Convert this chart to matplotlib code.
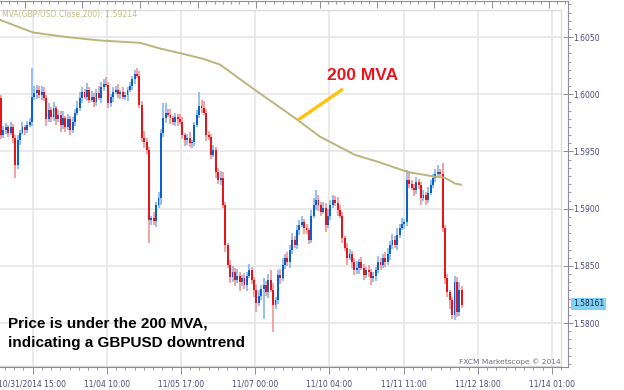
import matplotlib
matplotlib.use("Agg")
import matplotlib.pyplot as plt
import numpy as np
from matplotlib.ticker import FixedLocator

# ---------------- data ----------------
first_open = 1.5997
closes = [
    1.5964, 1.5969, 1.5971, 1.5966, 1.5971, 1.5962, 1.5938, 1.5960, 1.5966, 1.5971,
    1.5969, 1.5973, 1.5976, 1.5998, 1.6001, 1.6004, 1.5999, 1.6002, 1.5997, 1.5978,
    1.5986, 1.5980, 1.5988, 1.5978, 1.5982, 1.5973, 1.5979, 1.5971, 1.5978, 1.5969,
    1.5976, 1.5984, 1.5988, 1.5997, 1.6002, 1.5998, 1.6004, 1.5995, 1.5998, 1.5993,
    1.6001, 1.5997, 1.6006, 1.6009, 1.6008, 1.5992, 1.5998, 1.6002, 1.6004, 1.6000,
    1.6002, 1.5998, 1.5999, 1.6004, 1.6007, 1.6013, 1.6018, 1.6016, 1.5991, 1.5962,
    1.5958, 1.5951, 1.5890, 1.5892, 1.5889, 1.5903, 1.5909, 1.5966, 1.5979, 1.5984,
    1.5982, 1.5979, 1.5976, 1.5980, 1.5978, 1.5976, 1.5964, 1.5960, 1.5962, 1.5957,
    1.5958, 1.5973, 1.5982, 1.5990, 1.5988, 1.5984, 1.5964, 1.5963, 1.5947, 1.5951,
    1.5932, 1.5925, 1.5927, 1.5903, 1.5868, 1.5851, 1.5840, 1.5845, 1.5838, 1.5841,
    1.5836, 1.5839, 1.5833, 1.5841, 1.5846, 1.5838, 1.5829, 1.5818, 1.5824, 1.5830,
    1.5833, 1.5827, 1.5838, 1.5829, 1.5816, 1.5820, 1.5842, 1.5839, 1.5851, 1.5857,
    1.5853, 1.5864, 1.5873, 1.5868, 1.5881, 1.5886, 1.5888, 1.5883, 1.5881, 1.5873,
    1.5894, 1.5903, 1.5908, 1.5903, 1.5897, 1.5901, 1.5886, 1.5894, 1.5903, 1.5908,
    1.5905, 1.5899, 1.5894, 1.5874, 1.5866, 1.5857, 1.5860, 1.5853, 1.5846, 1.5848,
    1.5853, 1.5848, 1.5842, 1.5846, 1.5845, 1.5839, 1.5841, 1.5846, 1.5853, 1.5851,
    1.5857, 1.5853, 1.5860, 1.5868, 1.5873, 1.5868, 1.5877, 1.5883, 1.5887, 1.5888,
    1.5925, 1.5922, 1.5918, 1.5916, 1.5923, 1.5921, 1.5909, 1.5912, 1.5908, 1.5914,
    1.5921, 1.5927, 1.5930, 1.5932, 1.5930, 1.5883, 1.5839, 1.5827, 1.5820, 1.5807,
    1.5836, 1.5810, 1.5829, 1.5816,
]
upper_wick_pips = [
    2, 3, 4, 2, 5, 3, 2, 4, 3, 5,
    2, 4, 3, 25, 6, 4, 3, 5, 4, 2,
    6, 3, 5, 2, 4, 3, 6, 2, 5, 3,
    4, 3, 6, 5, 4, 3, 6, 2, 5, 3,
    4, 6, 5, 4, 6, 3, 2, 4, 3, 5,
    2, 4, 3, 2, 4, 3, 3, 5, 4, 3,
    6, 4, 3, 2, 5, 3, 6, 4, 13, 8,
    3, 5, 2, 4, 3, 5, 4, 2, 3, 5,
    2, 3, 4, 12, 5, 6, 3, 4, 2, 5,
    3, 4, 6, 5, 3, 2, 4, 5, 3, 6,
    4, 3, 5, 4, 6, 3, 2, 4, 5, 3,
    6, 4, 5, 8, 6, 3, 4, 5, 6, 3,
    5, 4, 6, 3, 5, 4, 6, 3, 4, 2,
    5, 6, 8, 4, 3, 5, 4, 6, 5, 4,
    3, 5, 4, 3, 2, 4, 5, 3, 4, 6,
    3, 5, 4, 3, 5, 2, 4, 3, 6, 4,
    3, 5, 6, 4, 5, 3, 6, 4, 5, 3,
    9, 8, 3, 4, 5, 3, 2, 4, 3, 5,
    4, 3, 5, 6, 3, 10, 3, 4, 2, 3,
    5, 4, 7, 3,
]
lower_wick_pips = [
    3, 2, 4, 3, 2, 5, 11, 3, 4, 2,
    5, 3, 2, 4, 3, 5, 2, 4, 3, 6,
    2, 4, 3, 5, 2, 6, 3, 4, 2, 5,
    3, 4, 2, 3, 5, 2, 4, 3, 2, 4,
    3, 2, 5, 3, 2, 4, 3, 5, 2, 3,
    4, 2, 3, 5, 2, 3, 4, 2, 3, 4,
    5, 3, 20, 4, 3, 5, 2, 6, 3, 4,
    2, 5, 3, 4, 6, 2, 3, 5, 4, 3,
    4, 3, 2, 3, 4, 2, 5, 3, 4, 2,
    5, 3, 4, 2, 6, 3, 5, 4, 6, 3,
    8, 4, 3, 5, 2, 4, 6, 8, 3, 4,
    26, 3, 5, 2, 24, 4, 3, 5, 2, 4,
    3, 5, 4, 2, 3, 4, 2, 5, 3, 4,
    3, 2, 4, 5, 3, 2, 6, 3, 4, 2,
    3, 5, 2, 4, 3, 6, 2, 5, 4, 3,
    5, 2, 4, 3, 5, 6, 3, 4, 2, 5,
    3, 4, 2, 5, 3, 2, 4, 3, 2, 5,
    3, 4, 2, 5, 3, 4, 6, 2, 5, 3,
    2, 3, 4, 2, 3, 3, 5, 4, 8, 3,
    4, 5, 4, 3,
]
# 200-period moving average (bar index, value)
mva_bar = [-0.4, 13.4, 27.6, 41.5, 58.2, 66.6, 75.0, 84.6, 91.7, 105.6,
           124.0, 133.6, 148.3, 157.9, 170.5, 181.8, 186.0, 190.2, 192.7]
mva_val = [1.6065, 1.6054, 1.6050, 1.6047, 1.6045, 1.6040, 1.6036, 1.6031, 1.6026, 1.6005,
           1.5978, 1.5963, 1.5947, 1.5941, 1.5932, 1.5928, 1.5927, 1.5922, 1.5921]
mva_label = "MVA(GBP/USD.Close,200): 1.59214"
last_price = "1.58161"

x_tick_labels = ["10/31/2014 15:00", "11/04 10:00", "11/05 17:00", "11/07 00:00",
                 "11/10 04:00", "11/11 11:00", "11/12 18:00", "11/14 01:00"]
y_ticks = [1.5800, 1.5850, 1.5900, 1.5950, 1.6000, 1.6050]

# ---------------- layout (pixel calibration) ----------------
W, H = 624, 390
PX_PER_BAR = 2.387
BAR0_PX = 1.0
PRICE_AT_Y0 = 1.60824
PRICE_PER_PX = 0.0000874


def bar_at(px):
    return (px - BAR0_PX) / PX_PER_BAR


def price_at(py):
    return PRICE_AT_Y0 - PRICE_PER_PX * py


label_bars = [bar_at(32.5) + k * (bar_at(552) - bar_at(32.5)) / 7 for k in range(8)]
ruler_major_px = [25, 82, 140, 198, 256, 320, 377, 434, 492, 549]

plt.rcParams["font.family"] = ["DejaVu Sans"]
fig = plt.figure(figsize=(W / 100, H / 100), dpi=100, facecolor="white")

# main plot area
ax = fig.add_axes([0, (H - 366) / H, 561 / W, (366 - 10) / H])
ax.set_xlim(bar_at(0), bar_at(561))
ax.set_ylim(price_at(366), price_at(10))
ax.set_xticks(label_bars)
ax.set_yticks(y_ticks)
ax.tick_params(length=0, labelleft=False, labelbottom=False)
ax.grid(True, color="#e8e8e8", lw=1.3)
ax.set_axisbelow(True)
for s in ["top", "right", "bottom"]:
    ax.spines[s].set_color("#dcdcdc")
    ax.spines[s].set_linewidth(1.0)
ax.spines["left"].set_visible(False)

# candles
c = np.array(closes)
o = np.concatenate([[first_open], c[:-1]])
hi = np.maximum(o, c) + np.array(upper_wick_pips) * 0.0001
lo = np.minimum(o, c) - np.array(lower_wick_pips) * 0.0001
x = np.arange(len(c))
up = c >= o
ax.vlines(x[up], lo[up], hi[up], color="#8dbbec", lw=1.3, zorder=2)
ax.vlines(x[~up], lo[~up], hi[~up], color="#f39b9b", lw=1.3, zorder=2)
body = np.maximum(np.abs(c - o), 0.00007)
ax.bar(x[up], body[up], bottom=o[up], width=0.8, color="#0c62cc", lw=0, zorder=3)
ax.bar(x[~up], body[~up], bottom=c[~up], width=0.8, color="#e8141c", lw=0, zorder=3)

# moving average
ax.plot(mva_bar, mva_val, color="#bab57c", lw=1.4, zorder=4, solid_joinstyle="round")

# pointer + label
ax.plot([bar_at(298), bar_at(343)], [price_at(120), price_at(89)], color="#ffc20e",
        lw=2.4, solid_capstyle="butt", zorder=5)
ax.text(bar_at(363), price_at(75.5), "200 MVA", color="#e8141c", fontsize=12.5,
        fontweight="bold", family="Liberation Sans", ha="center", va="center", zorder=6)

# frame axes with bottom/right scales
ax2 = fig.add_axes([0, (H - 367) / H, 568 / W, (367 - 1) / H])
ax2.patch.set_alpha(0)
ax2.set_xlim(bar_at(0), bar_at(568))
ax2.set_ylim(price_at(367), price_at(1))
ax2.spines["left"].set_visible(False)
ax2.spines["top"].set_visible(False)
for s in ["right", "bottom"]:
    ax2.spines[s].set_color("#8c8c98")
    ax2.spines[s].set_linewidth(0.8)
ax2.yaxis.tick_right()
ax2.set_yticks(y_ticks)
ax2.set_yticklabels([f"{v:.4f}" for v in y_ticks])
minor_y = [y_ticks[0] - 0.005 + k * 0.005 / 7 for k in range(60)]
ax2.yaxis.set_minor_locator(FixedLocator(minor_y))
ax2.tick_params(axis="y", which="major", direction="inout", length=7.0, width=0.7,
                color="#8c8c98", labelsize=5.5, labelcolor="#4a4a78", pad=0.6)
ax2.tick_params(axis="y", which="minor", direction="out", length=2.2, width=0.6,
                color="#8c8c98")
ax2.set_xticks(label_bars)
ax2.set_xticklabels(x_tick_labels)
step = (label_bars[1] - label_bars[0]) / 8
minor_x = [label_bars[0] + k * step for k in range(-8, 70)]
ax2.xaxis.set_minor_locator(FixedLocator(minor_x))
ax2.tick_params(axis="x", which="major", direction="out", length=5.0, width=0.7,
                color="#8c8c98", labelsize=5.5, labelcolor="#4a4a78", pad=4.2)
ax2.tick_params(axis="x", which="minor", direction="out", length=2.0, width=0.6,
                color="#8c8c98")

# top ruler
ax3 = fig.add_axes([0, (H - 367) / H, 568 / W, (367 - 1) / H])
ax3.patch.set_alpha(0)
ax3.set_xlim(bar_at(0), bar_at(568))
ax3.set_ylim(0, 1)
for s in ["left", "right", "bottom"]:
    ax3.spines[s].set_visible(False)
ax3.spines["top"].set_color("#8c8c98")
ax3.spines["top"].set_linewidth(0.8)
ax3.yaxis.set_visible(False)
ax3.xaxis.tick_top()
rmaj = [bar_at(p) for p in ruler_major_px]
ax3.set_xticks(rmaj)
ax3.set_xticklabels([])
rmin = []
ext = [rmaj[0] - (rmaj[1] - rmaj[0])] + rmaj + [rmaj[-1] + (rmaj[-1] - rmaj[-2])]
for a, b in zip(ext[:-1], ext[1:]):
    for k in range(1, 7):
        rmin.append(a + (b - a) * k / 7)
ax3.xaxis.set_minor_locator(FixedLocator(rmin))
ax3.tick_params(axis="x", which="major", direction="in", length=5.0, width=0.7,
                color="#8c8c98", top=True, bottom=False)
ax3.tick_params(axis="x", which="minor", direction="in", length=2.2, width=0.6,
                color="#8c8c98", top=True, bottom=False)

# texts
fig.text(2 / W, 1 - 14.5 / H, mva_label, fontsize=5.6, color="#c2bd86",
         ha="left", va="center")
fig.text(8 / W, 1 - 328 / H, "Price is under the 200 MVA,", fontsize=11,
         fontweight="bold", family="Liberation Sans", color="black", ha="left",
         va="baseline")
fig.text(8 / W, 1 - 347 / H, "indicating a GBPUSD downtrend", fontsize=11,
         fontweight="bold", family="Liberation Sans", color="black", ha="left",
         va="baseline")
fig.text(561 / W, 1 - 364 / H, "FXCM Marketscope \u00a9 2014", fontsize=5.4,
         color="#6e6e80", ha="right", va="baseline")
fig.text(573 / W, 1 - 304 / H, last_price, fontsize=5.5, color="#202040",
         ha="left", va="center",
         bbox=dict(boxstyle="square,pad=0.25", fc="#82d2f5", ec="none"))

fig.savefig("out.png", dpi=100, facecolor="white")
